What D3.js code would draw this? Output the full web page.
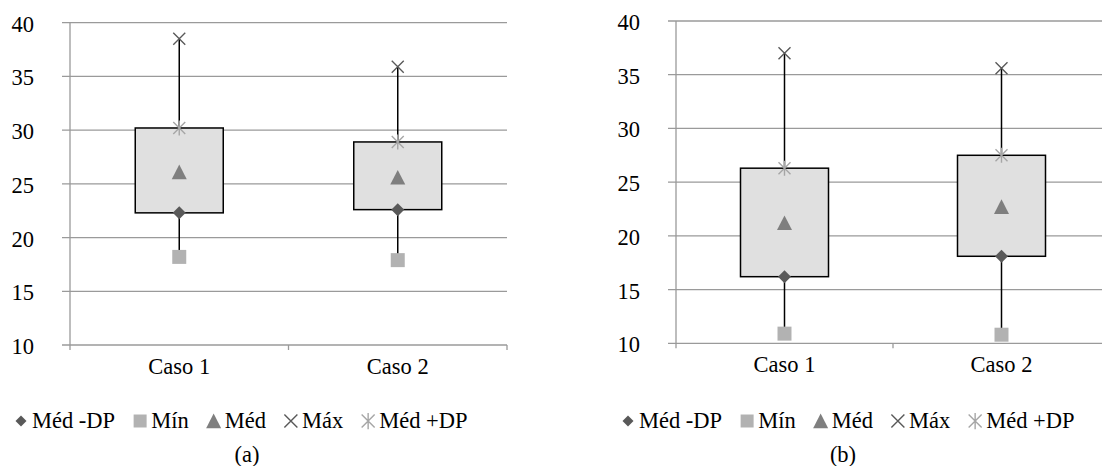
<!DOCTYPE html>
<html>
<head>
<meta charset="utf-8">
<script src="https://cdn.jsdelivr.net/npm/d3@7"></script>
<style>
  body { margin: 0; background: #fff; }
</style>
</head>
<body>
<div id="chart"></div>
<script>
// data
var categories = ["Caso 1", "Caso 2"];
var yTicks = [10, 15, 20, 25, 30, 35, 40];
var seriesNames = ["Méd -DP", "Mín", "Méd", "Máx", "Méd +DP"];

// panel (a)
var medMenosDP_a = [22.3, 22.6];
var min_a = [18.2, 17.9];
var med_a = [26.1, 25.6];
var max_a = [38.5, 35.9];
var medMaisDP_a = [30.2, 28.9];

// panel (b)
var medMenosDP_b = [16.2, 18.1];
var min_b = [10.9, 10.8];
var med_b = [21.2, 22.7];
var max_b = [37.0, 35.6];
var medMaisDP_b = [26.3, 27.5];

var FONT = 22.5;
var markerColor = {
  "Méd -DP": "#595959",
  "Mín": "#b2b2b2",
  "Méd": "#7f7f7f",
  "Máx": "#595959",
  "Méd +DP": "#a6a6a6"
};

var svg = d3.select("#chart").append("svg")
  .attr("width", 1102)
  .attr("height", 466);

// r = half size of the marker
function markerPath(name, r) {
  var p = d3.path();
  if (name == "Méd -DP") {
    p.moveTo(0, -r); p.lineTo(r, 0); p.lineTo(0, r); p.lineTo(-r, 0); p.closePath();
  } else if (name == "Mín") {
    p.rect(-r, -r, 2 * r, 2 * r);
  } else if (name == "Méd") {
    p.moveTo(0, -r); p.lineTo(r, r * 0.95); p.lineTo(-r, r * 0.95); p.closePath();
  } else if (name == "Máx") {
    p.moveTo(-r, -r); p.lineTo(r, r); p.moveTo(-r, r); p.lineTo(r, -r);
  } else {
    p.moveTo(-r, -r); p.lineTo(r, r); p.moveTo(-r, r); p.lineTo(r, -r);
    p.moveTo(0, -r * 1.25); p.lineTo(0, r * 1.25);
  }
  return p.toString();
}

function drawMarker(g, name, cx, cy, r) {
  var filled = (name == "Méd -DP" || name == "Mín" || name == "Méd");
  g.append("path")
    .attr("d", markerPath(name, r))
    .attr("transform", "translate(" + cx + "," + cy + ")")
    .attr("fill", filled ? markerColor[name] : "none")
    .attr("stroke", filled ? "none" : markerColor[name])
    .attr("stroke-width", filled ? 0 : 1.4);
}

function addText(g, x, y, str, anchor) {
  return g.append("text")
    .attr("x", x)
    .attr("y", y)
    .attr("text-anchor", anchor || "start")
    .style("font-family", "'Liberation Serif', 'Times New Roman'")
    .attr("font-size", FONT)
    .attr("fill", "#000")
    .text(str);
}

function drawPanel(opt) {
  var g = svg.append("g");

  var y = d3.scaleLinear().domain([10, 40]).range([opt.bottom, opt.top]);
  var x = d3.scaleBand().domain(categories).range([opt.left, opt.right]).padding(0);

  // gridlines + left tick marks
  g.selectAll(".grid").data(yTicks).enter().append("line")
    .attr("x1", opt.left - 8)
    .attr("x2", Math.min(opt.right, 1102))
    .attr("y1", function(d) { return y(d); })
    .attr("y2", function(d) { return y(d); })
    .attr("stroke", "#9a9a9a")
    .attr("stroke-width", 1.3);

  yTicks.forEach(function(d) {
    addText(g, opt.left - 36, y(d) + 9, d, "end");
  });

  // y axis line
  g.append("line")
    .attr("x1", opt.left).attr("x2", opt.left)
    .attr("y1", opt.top).attr("y2", opt.bottom + 5)
    .attr("stroke", "#9a9a9a").attr("stroke-width", 1.3);

  // category boundary ticks
  var bounds = categories.map(function(c) { return x(c); }).concat([opt.right]);
  g.selectAll(".xtick").data(bounds.slice(1)).enter().append("line")
    .attr("x1", function(d) { return d; }).attr("x2", function(d) { return d; })
    .attr("y1", opt.bottom).attr("y2", opt.bottom + 5)
    .attr("stroke", "#9a9a9a").attr("stroke-width", 1.3);

  categories.forEach(function(c) {
    addText(g, x(c) + x.bandwidth() / 2, opt.bottom + 29, c, "middle");
  });

  // boxes and whiskers
  var boxW = 88;
  categories.forEach(function(c, i) {
    var cx = x(c) + x.bandwidth() / 2;
    g.append("line")
      .attr("x1", cx).attr("x2", cx)
      .attr("y1", y(opt.max[i])).attr("y2", y(opt.plus[i]))
      .attr("stroke", "#000").attr("stroke-width", 1.5);
    g.append("line")
      .attr("x1", cx).attr("x2", cx)
      .attr("y1", y(opt.minus[i])).attr("y2", y(opt.min[i]))
      .attr("stroke", "#000").attr("stroke-width", 1.5);
    g.append("rect")
      .attr("x", cx - boxW / 2)
      .attr("y", y(opt.plus[i]))
      .attr("width", boxW)
      .attr("height", y(opt.minus[i]) - y(opt.plus[i]))
      .attr("fill", "#e0e0e0")
      .attr("stroke", "#000")
      .attr("stroke-width", 1.5);

    drawMarker(g, "Méd -DP", cx, y(opt.minus[i]), 6.5);
    drawMarker(g, "Mín", cx, y(opt.min[i]), 7);
    drawMarker(g, "Méd", cx, y(opt.med[i]), 7.5);
    drawMarker(g, "Máx", cx, y(opt.max[i]), 6);
    drawMarker(g, "Méd +DP", cx, y(opt.plus[i]), 6);
  });

  // legend
  var lx = opt.legendX;
  var ly = opt.legendY;
  var sizes = { "Méd -DP": 5.5, "Mín": 6.5, "Méd": 7.5, "Máx": 6.5, "Méd +DP": 6.5 };
  seriesNames.forEach(function(name) {
    drawMarker(g, name, lx, ly - 7, sizes[name]);
    var t = addText(g, lx + 11, ly, name);
    lx = lx + 11 + t.node().getComputedTextLength() + 25;
  });

  addText(g, opt.captionX, 462, opt.caption, "middle");
}

drawPanel({
  left: 70, right: 507, top: 22.7, bottom: 345,
  minus: medMenosDP_a, min: min_a, med: med_a, max: max_a, plus: medMaisDP_a,
  legendX: 21, legendY: 428, caption: "(a)", captionX: 247
});

drawPanel({
  left: 676, right: 1110, top: 21, bottom: 343.3,
  minus: medMenosDP_b, min: min_b, med: med_b, max: max_b, plus: medMaisDP_b,
  legendX: 628, legendY: 428, caption: "(b)", captionX: 843
});
</script>
</body>
</html>
